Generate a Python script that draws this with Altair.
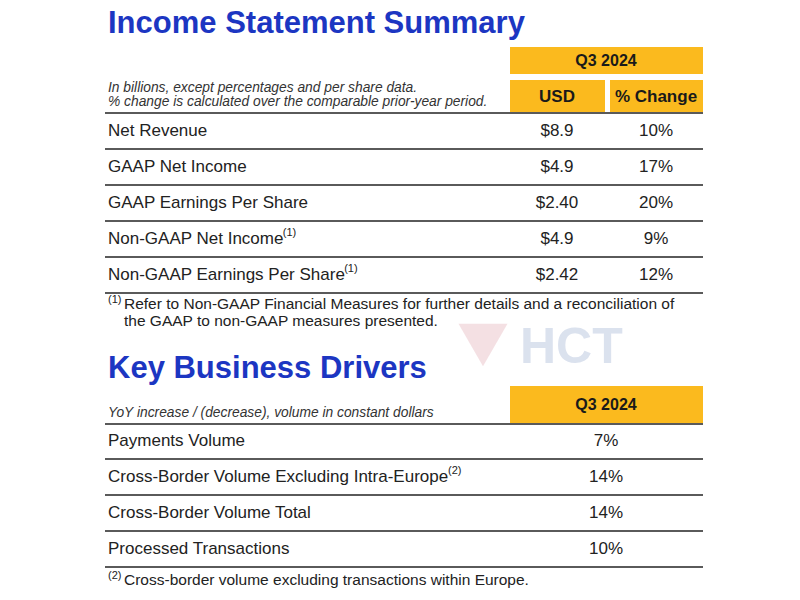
import altair as alt
import pandas as pd

# ---------------- data ----------------
title_income = "Income Statement Summary"
title_drivers = "Key Business Drivers"
income_note_lines = ["In billions, except percentages and per share data.",
                     "% change is calculated over the comparable prior-year period."]
drivers_note = "YoY increase / (decrease), volume in constant dollars"
period = "Q3 2024"
income_cols = ["USD", "% Change"]

income_labels = ["Net Revenue", "GAAP Net Income", "GAAP Earnings Per Share",
                 "Non-GAAP Net Income", "Non-GAAP Earnings Per Share"]
income_usd = ["$8.9", "$4.9", "$2.40", "$4.9", "$2.42"]
income_pct = ["10%", "17%", "20%", "9%", "12%"]
income_sup = ["", "", "", "(1)", "(1)"]

driver_labels = ["Payments Volume", "Cross-Border Volume Excluding Intra-Europe",
                 "Cross-Border Volume Total", "Processed Transactions"]
driver_pct = ["7%", "14%", "14%", "10%"]
driver_sup = ["", "(2)", "", ""]

footnote1 = ["Refer to Non-GAAP Financial Measures for further details and a reconciliation of",
             "the GAAP to non-GAAP measures presented."]
footnote2 = "Cross-border volume excluding transactions within Europe."

# ---------------- layout helpers ----------------
W = {' ': 278, '(': 333, ')': 333, '-': 333, '.': 278, ',': 278, '/': 278, '%': 889, '$': 556,
     'A': 667, 'B': 667, 'C': 722, 'D': 722, 'E': 667, 'F': 611, 'G': 778, 'H': 722, 'I': 278,
     'J': 500, 'K': 667, 'L': 556, 'M': 833, 'N': 722, 'O': 778, 'P': 667, 'Q': 778, 'R': 722,
     'S': 667, 'T': 611, 'U': 722, 'V': 667, 'W': 944, 'X': 667, 'Y': 667, 'Z': 611,
     'a': 556, 'b': 556, 'c': 500, 'd': 556, 'e': 556, 'f': 278, 'g': 556, 'h': 556, 'i': 222,
     'j': 222, 'k': 500, 'l': 222, 'm': 833, 'n': 556, 'o': 556, 'p': 556, 'q': 556, 'r': 333,
     's': 500, 't': 278, 'u': 556, 'v': 500, 'w': 722, 'x': 500, 'y': 500, 'z': 500}


def text_width(s, size):
    return sum(W.get(c, 556) for c in s) * size / 1000.0


FONT = "Liberation Sans"
LEFT = 108
ROW_SIZE = 17
COL_USD = 557
COL_PCT = 656
COL_DRV = 606
income_y = [131 + 36 * i for i in range(len(income_labels))]
driver_y = [441 + 36 * i for i in range(len(driver_labels))]

xs = alt.Scale(domain=[8, 792], nice=False, zero=False)
ys = alt.Scale(domain=[592, 8], nice=False, zero=False)
X = lambda f="x": alt.X(f"{f}:Q", scale=xs, axis=None)
Y = lambda f="y": alt.Y(f"{f}:Q", scale=ys, axis=None)

# ---------------- tables ----------------
boxes = pd.DataFrame([
    dict(x=510, x2=703, y=47, y2=74),
    dict(x=510, x2=605, y=80, y2=112),
    dict(x=610, x2=703, y=80, y2=112),
    dict(x=510, x2=703, y=386, y2=423),
])
rules = pd.DataFrame(
    [dict(x=105, x2=703, y=113)] +
    [dict(x=105, x2=703, y=y + 18) for y in income_y] +
    [dict(x=105, x2=703, y=424)] +
    [dict(x=105, x2=703, y=y + 18) for y in driver_y]
)

titles = pd.DataFrame([dict(x=LEFT, y=24, t=title_income), dict(x=LEFT, y=369, t=title_drivers)])
italics = pd.DataFrame([dict(x=LEFT, y=88, t=income_note_lines[0]),
                        dict(x=LEFT, y=102, t=income_note_lines[1]),
                        dict(x=LEFT, y=413, t=drivers_note)])
headers = pd.DataFrame([dict(x=COL_DRV, y=61, t=period, s=16),
                        dict(x=COL_USD, y=97, t=income_cols[0], s=17),
                        dict(x=COL_PCT, y=97, t=income_cols[1], s=17),
                        dict(x=COL_DRV, y=405, t=period, s=16)])
labels = pd.DataFrame([dict(x=LEFT, y=y, t=t) for t, y in zip(income_labels, income_y)] +
                      [dict(x=LEFT, y=y, t=t) for t, y in zip(driver_labels, driver_y)])
values = pd.DataFrame([dict(x=COL_USD, y=y, t=t) for t, y in zip(income_usd, income_y)] +
                      [dict(x=COL_PCT, y=y, t=t) for t, y in zip(income_pct, income_y)] +
                      [dict(x=COL_DRV, y=y, t=t) for t, y in zip(driver_pct, driver_y)])
sups = pd.DataFrame(
    [dict(x=LEFT + text_width(l, ROW_SIZE) - 1, y=y - 6, t=s)
     for l, s, y in zip(income_labels, income_sup, income_y) if s] +
    [dict(x=LEFT + text_width(l, ROW_SIZE) - 1, y=y - 6, t=s)
     for l, s, y in zip(driver_labels, driver_sup, driver_y) if s] +
    [dict(x=LEFT, y=300, t="(1)"), dict(x=LEFT, y=576, t="(2)")]
)
foots = pd.DataFrame([dict(x=124, y=304, t=footnote1[0]),
                      dict(x=124, y=321, t=footnote1[1]),
                      dict(x=124, y=580, t=footnote2)])

wm_mark = pd.DataFrame([dict(x=483, y=345)])
wm_text = pd.DataFrame([dict(x=520, y=348, t="HCT")])

# ---------------- marks ----------------
gold = alt.Chart(boxes).mark_rect(color="#FBBA1E").encode(
    x=X(), x2="x2:Q", y=Y(), y2="y2:Q")
lines = alt.Chart(rules).mark_rule(color="#5a5a5a", strokeWidth=2).encode(
    x=X(), x2="x2:Q", y=Y())

watermark_shape = alt.Chart(wm_mark).mark_point(
    shape="triangle-down", filled=True, size=2400, color="#f0d3d7", opacity=0.7).encode(x=X(), y=Y())
watermark_txt = alt.Chart(wm_text).mark_text(
    font=FONT, fontSize=50, fontWeight="bold", color="#d3dbeb", align="left", baseline="middle",
    opacity=0.8).encode(x=X(), y=Y(), text="t:N")

t_titles = alt.Chart(titles).mark_text(
    font=FONT, fontSize=31, fontWeight="bold", color="#1c36c2", align="left",
    baseline="middle").encode(x=X(), y=Y(), text="t:N")
t_italic = alt.Chart(italics).mark_text(
    font=FONT, fontSize=13.8, fontStyle="italic", color="#333333", align="left",
    baseline="middle").encode(x=X(), y=Y(), text="t:N")
t_headers = alt.Chart(headers).mark_text(
    font=FONT, fontWeight="bold", color="#1a1a1a", align="center",
    baseline="middle").encode(x=X(), y=Y(), text="t:N",
                              size=alt.Size("s:Q", scale=None, legend=None))
t_labels = alt.Chart(labels).mark_text(
    font=FONT, fontSize=ROW_SIZE, color="#222222", align="left",
    baseline="middle").encode(x=X(), y=Y(), text="t:N")
t_values = alt.Chart(values).mark_text(
    font=FONT, fontSize=ROW_SIZE, color="#222222", align="center",
    baseline="middle").encode(x=X(), y=Y(), text="t:N")
t_sups = alt.Chart(sups).mark_text(
    font=FONT, fontSize=11, color="#222222", align="left",
    baseline="middle").encode(x=X(), y=Y(), text="t:N")
t_foots = alt.Chart(foots).mark_text(
    font=FONT, fontSize=15.5, color="#222222", align="left",
    baseline="middle").encode(x=X(), y=Y(), text="t:N")

chart = alt.layer(
    watermark_shape, watermark_txt, gold, lines, t_titles, t_italic, t_headers,
    t_labels, t_values, t_sups, t_foots
).properties(
    width=784, height=584, padding=0, autosize=alt.AutoSizeParams(type="none"),
    background="white"
).configure_view(stroke=None)

chart.save("out.html", embed_options={"renderer": "svg", "actions": False})
